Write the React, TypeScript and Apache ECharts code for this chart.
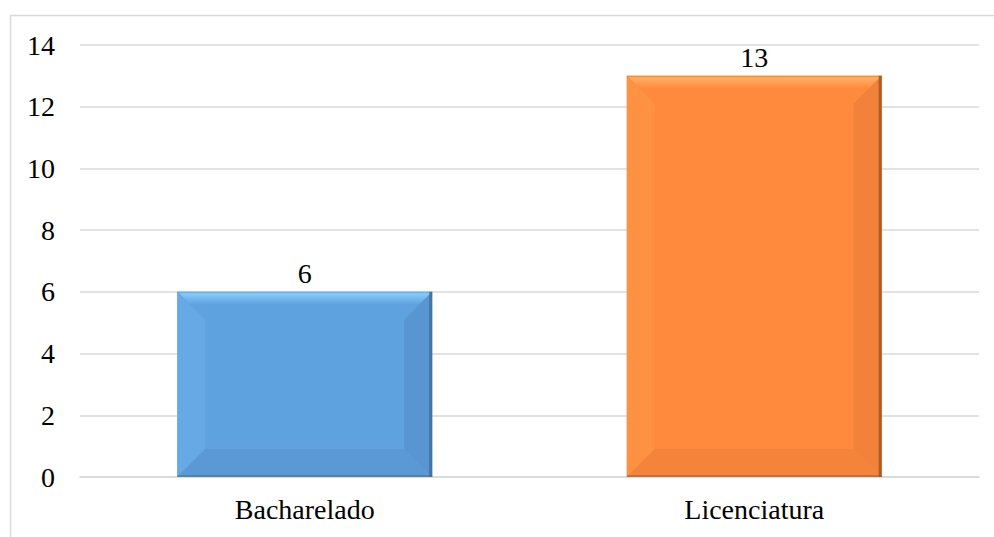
import React, { useEffect, useRef } from "react";
import * as echarts from "echarts";

const categories = ["Bacharelado", "Licenciatura"];
const values = [6, 13];
const yTicks = { min: 0, max: 14, interval: 2 };

// Per-bar palettes: face, top bevel highlight, left bevel, right bevel, bottom bevel, edge line
const palettes = [
  { face: "#5FA2E0", top: "#8FD0FA", left: "#66A9E5", right: "#5896D2", bottom: "#5A99D5", edge: "#3E6C97" },
  { face: "#FF8A3D", top: "#FFB66C", left: "#FF9143", right: "#F2813A", bottom: "#F4843A", edge: "#9A5322" },
];

const FONT = "'Times New Roman', 'Liberation Serif', serif";
const FONT_SIZE = 28;

export default function App() {
  const ref = useRef<HTMLDivElement>(null);

  useEffect(() => {
    if (!ref.current) return;
    const chart = echarts.init(ref.current, null, { renderer: "svg" });

    const renderItem = (params: any, api: any) => {
      const idx = api.value(0);
      const val = api.value(1);
      const top = api.coord([idx, val]);
      const base = api.coord([idx, 0]);
      const band = api.size([1, 0])[0];
      const w = band * 0.567;
      const x0 = top[0] - w / 2;
      const x1 = top[0] + w / 2;
      const y0 = top[1];
      const y1 = base[1];
      const b = Math.min(28, (y1 - y0) / 2, w / 2);
      const p = palettes[params.dataIndex % palettes.length];
      return {
        type: "group",
        children: [
          { type: "rect", shape: { x: x0, y: y0, width: w, height: y1 - y0 }, style: { fill: p.face } },
          {
            type: "polygon",
            shape: { points: [[x0, y0], [x1, y0], [x1 - b, y0 + b], [x0 + b, y0 + b]] },
            style: {
              fill: new echarts.graphic.LinearGradient(0, 0, 0, 1, [
                { offset: 0, color: p.top },
                { offset: 0.45, color: p.face },
                { offset: 1, color: p.face },
              ]),
            },
          },
          {
            type: "polygon",
            shape: { points: [[x0, y0], [x0 + b, y0 + b], [x0 + b, y1 - b], [x0, y1]] },
            style: { fill: p.left },
          },
          {
            type: "polygon",
            shape: { points: [[x1, y0], [x1, y1], [x1 - b, y1 - b], [x1 - b, y0 + b]] },
            style: { fill: p.right },
          },
          {
            type: "polygon",
            shape: { points: [[x0, y1], [x1, y1], [x1 - b, y1 - b], [x0 + b, y1 - b]] },
            style: { fill: p.bottom },
          },
          { type: "rect", shape: { x: x1 - 3, y: y0, width: 3, height: y1 - y0 }, style: { fill: p.edge, opacity: 0.8 } },
          { type: "rect", shape: { x: x0, y: y1 - 2, width: w, height: 2 }, style: { fill: p.edge, opacity: 0.45 } },
          { type: "rect", shape: { x: x0, y: y0, width: w, height: 1.5 }, style: { fill: p.edge, opacity: 0.3 } },
          {
            type: "text",
            style: {
              text: String(val),
              x: top[0],
              y: y0 - 4,
              align: "center",
              verticalAlign: "bottom",
              fontFamily: FONT,
              fontSize: FONT_SIZE,
              fill: "#000",
            },
          },
        ],
      };
    };

    chart.setOption({
      animation: false,
      backgroundColor: "#fff",
      textStyle: { fontFamily: FONT },
      graphic: [
        {
          type: "rect",
          shape: { x: 10.5, y: 15.5, width: 1000, height: 600 },
          style: { fill: "none", stroke: "#D9D9D9", lineWidth: 1.5 },
          silent: true,
        },
      ],
      grid: { left: 80, right: 15, top: 45, bottom: 60, containLabel: false },
      xAxis: {
        type: "category",
        data: categories,
        axisLine: { show: true, lineStyle: { color: "#D9D9D9", width: 1.5 } },
        axisTick: { show: false },
        axisLabel: { margin: 18, fontFamily: FONT, fontSize: FONT_SIZE, color: "#000" },
      },
      yAxis: {
        type: "value",
        min: yTicks.min,
        max: yTicks.max,
        interval: yTicks.interval,
        axisLine: { show: false },
        axisTick: { show: false },
        splitLine: { lineStyle: { color: "#D9D9D9", width: 1.5 } },
        axisLabel: { margin: 25, fontFamily: FONT, fontSize: FONT_SIZE, color: "#000" },
      },
      series: [
        {
          type: "custom",
          renderItem,
          encode: { x: 0, y: 1 },
          data: values.map((v, i) => [i, v]),
          z: 3,
        },
      ],
    });

    return () => chart.dispose();
  }, []);

  return (
    <div
      ref={ref}
      style={{ position: "fixed", left: 0, top: 0, width: 994, height: 537 }}
    />
  );
}
